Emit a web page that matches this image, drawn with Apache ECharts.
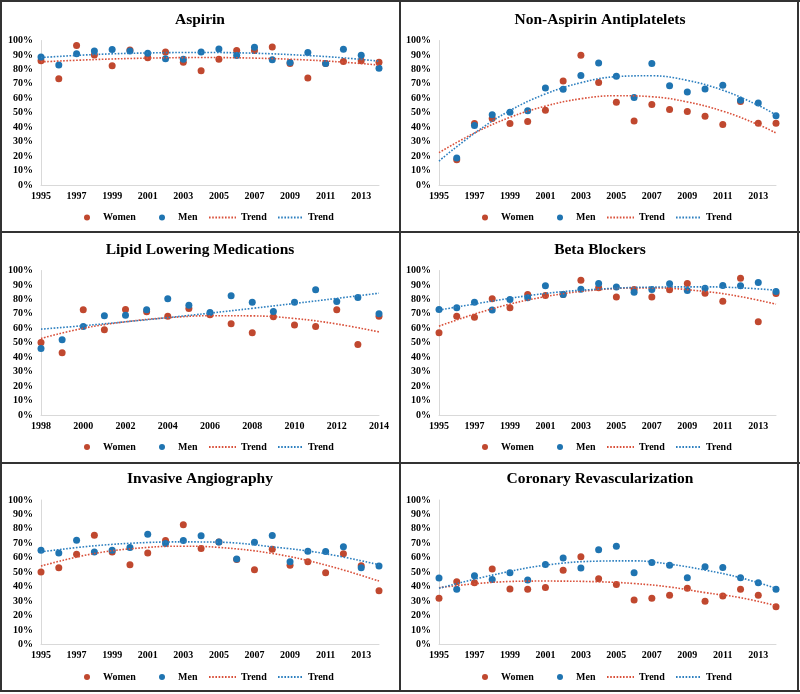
<!DOCTYPE html>
<html><head><meta charset="utf-8">
<script src="https://cdn.jsdelivr.net/npm/echarts@6/dist/echarts.min.js"></script>
<style>
html,body{margin:0;padding:0;background:#fff;}
#wrap{position:relative;width:800px;height:694px;overflow:hidden;}
.p{position:absolute;}
.ln{position:absolute;background:#333;}
</style></head><body>
<div id="wrap">
 <div class="p" id="c0" style="left:0;top:0;width:400px;height:231px"></div>
 <div class="p" id="c1" style="left:400px;top:0;width:400px;height:231px"></div>
 <div class="p" id="c2" style="left:0;top:231px;width:400px;height:231px"></div>
 <div class="p" id="c3" style="left:400px;top:231px;width:400px;height:231px"></div>
 <div class="p" id="c4" style="left:0;top:462px;width:400px;height:232px"></div>
 <div class="p" id="c5" style="left:400px;top:462px;width:400px;height:232px"></div>
 <div class="ln" style="left:0;top:0;width:800px;height:2px"></div>
 <div class="ln" style="left:0;top:690px;width:800px;height:2px"></div>
 <div class="ln" style="left:0;top:0;width:2px;height:692px"></div>
 <div class="ln" style="left:797px;top:0;width:2px;height:692px"></div>
 <div class="ln" style="left:399px;top:0;width:2px;height:692px"></div>
 <div class="ln" style="left:0;top:231px;width:800px;height:2px"></div>
 <div class="ln" style="left:0;top:462px;width:800px;height:2px"></div>
</div>
<script>
// ---------- DATA ----------
const years = [1995,1996,1997,1998,1999,2000,2001,2002,2003,2004,2005,2006,2007,2008,2009,2010,2011,2012,2013,2014];
const naYears = [1996,1997,1998,1999,2000,2001,2002,2003,2004,2005,2006,2007,2008,2009,2010,2011,2012,2013,2014];
const lipidYears = [1998,1999,2000,2001,2002,2003,2004,2005,2006,2007,2008,2009,2010,2011,2012,2013,2014];

const aspirinWomen = [86, 73.5, 96.5, 90, 82.5, 93.5, 88, 92, 85, 79, 87, 93, 93, 95.5, 84, 74, 84, 85.5, 86, 85];
const aspirinMen   = [88.5, 83, 90.8, 92.8, 93.8, 92.8, 91.2, 87.3, 87.1, 92, 94.2, 89.6, 95.4, 86.6, 84.8, 91.7, 84.1, 94, 89.8, 80.8];
const aspirinTrendYears = [1995, 1998, 2001, 2004, 2007, 2010, 2012, 2014];
const aspirinTrendWomen = [85.2, 86.8, 87.8, 88.2, 87.8, 86.5, 85, 83];
const aspirinTrendMen   = [88.2, 90.3, 91.4, 91.7, 91.2, 89.6, 88, 85.7];

const naWomen = [17.5, 42.5, 46, 42.5, 44, 51.7, 72, 89.8, 71, 57.3, 44.3, 55.7, 52.2, 50.8, 47.6, 41.8, 57.7, 42.7, 42.7];
const naMen   = [18.7, 41.1, 48.7, 50.3, 51.3, 67.2, 66.3, 75.8, 84.5, 75.3, 60.5, 84.1, 68.6, 64.4, 66.5, 69.1, 58.7, 56.8, 48];
const naTrendYears = [1995, 1997, 1999, 2001, 2003, 2005, 2007, 2009, 2011, 2013, 2014];
const naTrendWomen = [22.4, 36, 46.8, 54.6, 59.7, 61.8, 61.1, 57.5, 51.1, 41.8, 36];
const naTrendMen   = [16.6, 35.8, 51.5, 63, 70.8, 75, 75.6, 72.4, 65.6, 55.1, 48.5];

const lipidWomen = [50.2, 43.1, 72.8, 59, 73, 71.4, 68.4, 73.7, 69.4, 63.1, 56.9, 68, 62.2, 61.3, 72.8, 48.8, 68.4];
const lipidMen   = [46.1, 52.1, 61.3, 68.7, 69.1, 72.8, 80.4, 76, 70.9, 82.5, 78.1, 71.7, 78.1, 86.6, 78.6, 81.3, 70];
const lipidTrendYears = [1998, 2000, 2002, 2004, 2006, 2008, 2010, 2012, 2014];
const lipidTrendWomen = [53, 60, 64.5, 67.3, 68.7, 68.6, 66.8, 63, 57.5];
const lipidTrendMen   = [59.4, 61.8, 64.5, 67.4, 70.5, 73.8, 77.2, 80.7, 84.3];

const betaWomen = [56.9, 68.4, 67.7, 80.4, 74.2, 83.4, 82.7, 83.4, 93.3, 88, 81.6, 86.9, 81.6, 86.6, 91, 84.3, 78.8, 94.7, 64.5, 84.1];
const betaMen   = [73, 74.2, 78.1, 72.6, 80, 81.1, 89.4, 83.4, 87.1, 91, 88.5, 85, 86.9, 90.8, 86.2, 87.8, 89.6, 89.4, 91.7, 85.5];
const betaTrendYears = [1995, 1998, 2001, 2004, 2007, 2010, 2012, 2014];
const betaTrendWomen = [61.5, 73.5, 81.9, 86.7, 88, 85.5, 81.9, 76.7];
const betaTrendMen   = [72.6, 78.8, 84.1, 87.1, 88.5, 88.7, 88, 86.4];

const angioWomen = [50.1, 53.1, 62.5, 75.6, 64.1, 55.2, 63.4, 71.9, 82.8, 66.4, 71, 58.9, 51.7, 66, 54.9, 57.2, 49.7, 62.8, 54.5, 37.2];
const angioMen   = [65.3, 63.4, 72.2, 64.1, 65.3, 67.1, 76.3, 69.9, 71.9, 75.2, 71, 59.1, 70.8, 75.4, 57.2, 64.6, 64.4, 67.6, 53.1, 54.3];
const angioTrendYears = [1995, 1998, 2001, 2003, 2005, 2008, 2011, 2014];
const angioTrendWomen = [54.3, 63, 67.2, 68, 67.2, 63, 55, 43.9];
const angioTrendMen   = [64.1, 68.3, 70.6, 71, 70.8, 67.6, 62.8, 55.2];

const revascWomen = [32, 43.4, 42.8, 52.2, 38.4, 38.2, 39.5, 51.3, 60.7, 45.5, 41.6, 30.8, 32, 34, 38.9, 29.9, 33.6, 38.2, 34, 26.2];
const revascMen   = [46, 38.2, 47.6, 45, 49.7, 44.6, 55.4, 59.8, 52.9, 65.5, 68, 49.7, 56.8, 54.9, 46.2, 53.8, 53.3, 46.2, 42.8, 38.2];
const revascTrendYears = [1995, 1998, 2001, 2004, 2006, 2008, 2010, 2012, 2014];
const revascTrendWomen = [39.3, 43, 43.9, 43.4, 42.2, 39.8, 35.9, 32.4, 26.9];
const revascTrendMen   = [38.9, 48, 54.9, 57.7, 57.9, 55.6, 51.5, 46.2, 38.9];

const yTicks = [0,10,20,30,40,50,60,70,80,90,100];
const legendNames = ['Women', 'Men', 'Trend', 'Trend '];

// ---------- STYLE ----------
const RED = '#C0482F', BLUE = '#1F74B1';
const TRED = '#D9503A', TBLUE = '#2C7FBF';
const FONT = "'Liberation Serif','Times New Roman',serif";

const panels = [
  {id:'c0', title:'Aspirin', x:years, w:aspirinWomen, m:aspirinMen, tx:aspirinTrendYears, tw:aspirinTrendWomen, tm:aspirinTrendMen, xmin:1995, xmax:2014, col:0, row:0},
  {id:'c1', title:'Non-Aspirin Antiplatelets', x:naYears, w:naWomen, m:naMen, tx:naTrendYears, tw:naTrendWomen, tm:naTrendMen, xmin:1995, xmax:2014, col:1, row:0},
  {id:'c2', title:'Lipid Lowering Medications', x:lipidYears, w:lipidWomen, m:lipidMen, tx:lipidTrendYears, tw:lipidTrendWomen, tm:lipidTrendMen, xmin:1998, xmax:2014, col:0, row:1},
  {id:'c3', title:'Beta Blockers', x:years, w:betaWomen, m:betaMen, tx:betaTrendYears, tw:betaTrendWomen, tm:betaTrendMen, xmin:1995, xmax:2014, col:1, row:1},
  {id:'c4', title:'Invasive Angiography', x:years, w:angioWomen, m:angioMen, tx:angioTrendYears, tw:angioTrendWomen, tm:angioTrendMen, xmin:1995, xmax:2014, col:0, row:2},
  {id:'c5', title:'Coronary Revascularization', x:years, w:revascWomen, m:revascMen, tx:revascTrendYears, tw:revascTrendWomen, tm:revascTrendMen, xmin:1995, xmax:2014, col:1, row:2}
];

const rowGeom = [{top:40.5, titleTop:11.5, legendTop:212.5}, {top:39.5, titleTop:10.5, legendTop:211}, {top:38, titleTop:9, legendTop:210}];
const colGeom = [{left:41, width:338, dx:0}, {left:39, width:337, dx:-2}];
// legend item layout: [left, itemWidth]
const legendSlots = [[84, 22], [159, 22], [208, 27], [277, 25]];

function zip(xs, ys){ return xs.map((x,i)=>[x, ys[i]]); }

panels.forEach(p => {
  const chart = echarts.init(document.getElementById(p.id), null, {renderer:'canvas'});
  const rg = rowGeom[p.row], cg = colGeom[p.col];
  const labelStyle = {fontFamily:FONT, fontWeight:'bold', fontSize:10, color:'#000'};
  const legends = legendNames.map((n, i) => {
    const isLine = i >= 2;
    return {
      left: legendSlots[i][0] + cg.dx, top: rg.legendTop, padding: 0,
      itemWidth: legendSlots[i][1], itemHeight: 6, itemGap: 0,
      data: [isLine ? {name:n, itemStyle:{opacity:0}} : {name:n, icon:'circle'}],
      formatter: s => s.trim(),
      textStyle: {fontFamily:FONT, fontWeight:'bold', fontSize:10, color:'#000'}
    };
  });
  chart.setOption({
    animation:false,
    title:{text:p.title, left:'center', top:rg.titleTop, padding:0, textStyle:{fontFamily:FONT, fontWeight:'bold', fontSize:15.5, color:'#000'}},
    grid:{left:cg.left, top:rg.top, width:cg.width, height:144.5, containLabel:false},
    legend: legends,
    xAxis:{type:'value', min:p.xmin, max:p.xmax, interval:2,
      axisLine:{show:true, lineStyle:{color:'#D9D9D9', width:1}}, axisTick:{show:false}, splitLine:{show:false},
      axisLabel:Object.assign({margin:6, showMaxLabel: p.xmin === 1998, formatter: v => String(v)}, labelStyle)},
    yAxis:{type:'value', min:yTicks[0], max:yTicks[yTicks.length-1], interval:yTicks[1]-yTicks[0],
      axisLine:{show:true, lineStyle:{color:'#D9D9D9', width:1}}, axisTick:{show:false}, splitLine:{show:false},
      axisLabel:Object.assign({margin:8, formatter:'{value}%'}, labelStyle)},
    series:[
      {name:'Women', type:'scatter', data:zip(p.x, p.w), symbolSize:7, itemStyle:{color:RED, opacity:1}},
      {name:'Men', type:'scatter', data:zip(p.x, p.m), symbolSize:7, itemStyle:{color:BLUE, opacity:1}},
      {name:'Trend', type:'line', data:zip(p.tx, p.tw), smooth:0.4, symbol:'none', itemStyle:{color:TRED}, lineStyle:{color:TRED, width:1.6, type:[1.6,1.6]}},
      {name:'Trend ', type:'line', data:zip(p.tx, p.tm), smooth:0.4, symbol:'none', itemStyle:{color:TBLUE}, lineStyle:{color:TBLUE, width:1.6, type:[1.6,1.6]}}
    ]
  });
});
</script>
</body></html>
